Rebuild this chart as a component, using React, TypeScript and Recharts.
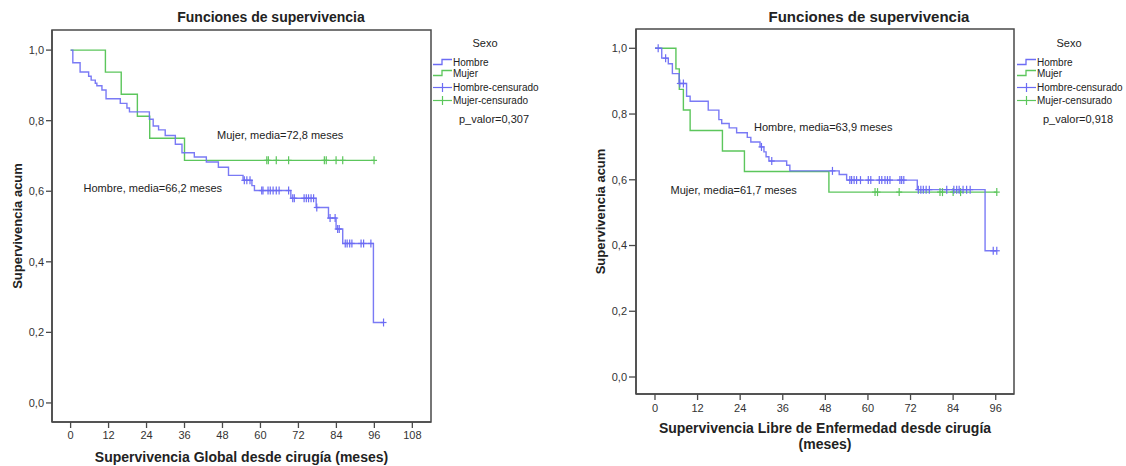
import React from 'react';
import { ComposedChart, Line, Scatter, XAxis, YAxis, ReferenceArea, ReferenceDot } from 'recharts';

const FONT = 'Arial, "Liberation Sans", sans-serif';
const BLUE = '#6c6cf4';
const GREEN = '#5cc65c';
const FRAME = '#4a4a4a';
const TEXT = '#222';

const survTicks = [0, 0.2, 0.4, 0.6, 0.8, 1.0];

// Supervivencia global
const sgTicksX = [0, 12, 24, 36, 48, 60, 72, 84, 96, 108];
const sgHombreTimes = [0.7, 3, 5.7, 6.5, 7.8, 8.3, 9.9, 11.2, 15.7, 17.8, 18.6, 24.9, 26.1, 27.8, 29.9, 33.1, 35.2, 39.1, 42.9, 46.7, 49.9, 54.5, 57.3, 58.1, 69.6, 77.6, 81.5, 83.9, 86.0, 95.7];
const sgHombreSurv = [0.964, 0.938, 0.926, 0.915, 0.906, 0.899, 0.887, 0.862, 0.849, 0.836, 0.825, 0.804, 0.785, 0.774, 0.758, 0.733, 0.709, 0.697, 0.683, 0.668, 0.645, 0.631, 0.616, 0.602, 0.58, 0.554, 0.524, 0.493, 0.452, 0.228];
const sgHombreCens = [54.9, 55.7, 56.7, 60.4, 60.8, 62.4, 63.1, 64.0, 65.0, 65.9, 68.9, 70.2, 70.7, 73.8, 74.5, 75.2, 76.0, 76.8, 77.8, 82.0, 83.6, 84.4, 84.9, 86.8, 87.4, 88.2, 88.9, 91.8, 92.6, 94.9, 98.9];
const sgMujerTimes = [11, 16, 21.1, 25, 36];
const sgMujerSurv = [0.9375, 0.875, 0.8125, 0.75, 0.6875];
const sgMujerCens = [62.0, 62.5, 65.0, 68.9, 80.2, 80.8, 83.9, 86.0, 95.9];

// Supervivencia libre de enfermedad
const sleTicksX = [0, 12, 24, 36, 48, 60, 72, 84, 96];
const sleHombreTimes = [1.9, 3.75, 4.9, 6.8, 8.9, 9.9, 15.0, 18.0, 18.8, 20.9, 23.0, 26.0, 27.0, 29.6, 30.7, 31.3, 32.1, 37.1, 38.0, 51.9, 54.0, 73.9, 93.0];
const sleHombreSurv = [0.97, 0.953, 0.923, 0.893, 0.854, 0.839, 0.812, 0.783, 0.771, 0.758, 0.743, 0.729, 0.715, 0.7, 0.685, 0.67, 0.657, 0.644, 0.627, 0.616, 0.599, 0.57, 0.384];
const sleHombreCens = [0.9, 3.0, 7.0, 8.0, 30.0, 32.9, 50.0, 54.9, 55.4, 56.1, 56.8, 57.9, 60.1, 60.8, 63.2, 63.9, 64.8, 65.5, 66.2, 69.0, 69.5, 70.1, 74.2, 74.9, 75.6, 76.4, 77.3, 82.2, 84.2, 85.0, 85.7, 86.8, 87.8, 88.8, 95.3, 96.3];
const sleMujerTimes = [5.9, 6.85, 8.0, 9.9, 19.0, 25.2, 49.0];
const sleMujerSurv = [0.9375, 0.875, 0.8125, 0.75, 0.6875, 0.625, 0.5625];
const sleMujerCens = [62.0, 62.7, 68.8, 80.3, 81.0, 84.0, 86.1, 96.3];

const legendItems = ['Hombre', 'Mujer', 'Hombre-censurado', 'Mujer-censurado'];

type Pt = { t: number; s: number };

function buildSteps(times: number[], surv: number[], cens: number[]): Pt[] {
  const pts: Pt[] = [{ t: 0, s: 1 }];
  times.forEach((t, i) => pts.push({ t, s: surv[i] }));
  const end = Math.max(times[times.length - 1], ...cens);
  pts.push({ t: end, s: surv[surv.length - 1] });
  return pts;
}

function buildCensored(times: number[], surv: number[], cens: number[]): Pt[] {
  return cens.map((t) => {
    let s = 1;
    times.forEach((et, i) => {
      if (et <= t) s = surv[i];
    });
    return { t, s };
  });
}

const fmtY = (v: number) => v.toFixed(1).replace('.', ',');

const censorShape = (color: string) => (props: any) => {
  const { cx, cy } = props;
  if (cx == null || cy == null) return <g />;
  return (
    <g>
      <line x1={cx} x2={cx} y1={cy - 4} y2={cy + 4} stroke={color} strokeWidth={1.2} />
      <line x1={cx - 3} x2={cx + 3} y1={cy} y2={cy} stroke={color} strokeWidth={1.2} />
    </g>
  );
};

const noteShape = (text: string) => (props: any) => (
  <text x={props.cx} y={props.cy} dominantBaseline="central" fontSize={11} fontFamily={FONT} fill={TEXT}>
    {text}
  </text>
);

function StepIcon({ color }: { color: string }) {
  return (
    <svg width={19} height={8} style={{ display: 'block' }}>
      <path d="M0,6.5 H9 V1.5 H19" stroke={color} strokeWidth={1.3} fill="none" />
    </svg>
  );
}

function CensIcon({ color }: { color: string }) {
  return (
    <svg width={19} height={9} style={{ display: 'block' }}>
      <line x1={0} x2={19} y1={4.5} y2={4.5} stroke={color} strokeWidth={1.2} />
      <line x1={9.5} x2={9.5} y1={0} y2={9} stroke={color} strokeWidth={1.2} />
    </svg>
  );
}

function SexoLegend({ left, top, pval }: { left: number; top: number; pval: string }) {
  const rowTops = [19, 30, 44, 57];
  return (
    <div style={{ position: 'absolute', left, top, width: 110, fontFamily: FONT, color: TEXT }}>
      <div style={{ position: 'absolute', left: 0, top: 0, width: 104, textAlign: 'center', fontSize: 11 }}>Sexo</div>
      {legendItems.map((name, i) => (
        <div key={name} style={{ position: 'absolute', left: 0, top: rowTops[i], display: 'flex', alignItems: 'center', height: 12, fontSize: 10, whiteSpace: 'nowrap' }}>
          {i < 2 ? <StepIcon color={i === 0 ? BLUE : GREEN} /> : <CensIcon color={i === 2 ? BLUE : GREEN} />}
          <span style={{ marginLeft: 1 }}>{name}</span>
        </div>
      ))}
      <div style={{ position: 'absolute', left: 0, top: 76, width: 122, textAlign: 'center', fontSize: 11 }}>{pval}</div>
    </div>
  );
}

const yLabel = (offX: number) => (props: any) => {
  const vb = props.viewBox;
  const x = vb.x + offX;
  const y = vb.y + vb.height / 2;
  return (
    <text x={x} y={y} transform={`rotate(-90 ${x} ${y})`} textAnchor="middle" dominantBaseline="central" fontSize={13} fontWeight="bold" fontFamily={FONT} fill={TEXT}>
      Supervivencia acum
    </text>
  );
};

const xLabel = (lines: string[], offY: number) => (props: any) => {
  const vb = props.viewBox;
  const x = vb.x + vb.width / 2;
  return (
    <text textAnchor="middle" fontSize={14} fontWeight="bold" fontFamily={FONT} fill={TEXT}>
      {lines.map((l, i) => (
        <tspan key={i} x={x} y={vb.y + offY + i * 16} dominantBaseline="central">
          {l}
        </tspan>
      ))}
    </text>
  );
};

type PanelProps = {
  width: number;
  margin: { top: number; right: number; left: number; bottom: number };
  yAxisWidth: number;
  xAxisHeight: number;
  xDomain: [number, number];
  yDomain: [number, number];
  xTicks: number[];
  yTickSize: number;
  xTickMargin: number;
  yLabelOff: number;
  xLabelLines: string[];
  xLabelOff: number;
  hombre: Pt[];
  mujer: Pt[];
  hombreCens: Pt[];
  mujerCens: Pt[];
  notes: { t: number; s: number; text: string }[];
};

function KMPanel(p: PanelProps) {
  const tickStyle = { fontSize: 11, fill: '#333', fontFamily: FONT };
  return (
    <ComposedChart width={p.width} height={466} margin={p.margin}>
      <XAxis
        dataKey="t"
        type="number"
        domain={p.xDomain}
        ticks={p.xTicks}
        allowDataOverflow
        height={p.xAxisHeight}
        tick={tickStyle}
        tickSize={6}
        tickMargin={p.xTickMargin}
        axisLine={{ stroke: FRAME, strokeWidth: 1.5 }}
        tickLine={{ stroke: FRAME, strokeWidth: 1.3 }}
        interval={0}
        label={{ content: xLabel(p.xLabelLines, p.xLabelOff) }}
      />
      <YAxis
        type="number"
        domain={p.yDomain}
        ticks={survTicks}
        allowDataOverflow
        width={p.yAxisWidth}
        tick={tickStyle}
        tickSize={p.yTickSize}
        tickMargin={2}
        tickFormatter={fmtY}
        axisLine={{ stroke: FRAME, strokeWidth: 1.5 }}
        tickLine={{ stroke: FRAME, strokeWidth: 1.3 }}
        interval={0}
        label={{ content: yLabel(p.yLabelOff) }}
      />
      <ReferenceArea x1={p.xDomain[0]} x2={p.xDomain[1]} y1={p.yDomain[0]} y2={p.yDomain[1]} fill="none" stroke={FRAME} strokeWidth={1.5} ifOverflow="visible" />
      <Line data={p.mujer} dataKey="s" type="stepAfter" stroke={GREEN} strokeWidth={1.4} dot={false} isAnimationActive={false} />
      <Line data={p.hombre} dataKey="s" type="stepAfter" stroke={BLUE} strokeWidth={1.4} strokeOpacity={0.9} dot={false} isAnimationActive={false} />
      <Scatter data={p.mujerCens} dataKey="s" shape={censorShape(GREEN)} isAnimationActive={false} />
      <Scatter data={p.hombreCens} dataKey="s" shape={censorShape(BLUE)} isAnimationActive={false} />
      {p.notes.map((n) => (
        <ReferenceDot key={n.text} x={n.t} y={n.s} r={0} shape={noteShape(n.text)} ifOverflow="visible" />
      ))}
    </ComposedChart>
  );
}

export default function App() {
  const sgH = buildSteps(sgHombreTimes, sgHombreSurv, sgHombreCens);
  const sgM = buildSteps(sgMujerTimes, sgMujerSurv, sgMujerCens);
  const sgHC = buildCensored(sgHombreTimes, sgHombreSurv, sgHombreCens);
  const sgMC = buildCensored(sgMujerTimes, sgMujerSurv, sgMujerCens);
  const sleH = buildSteps(sleHombreTimes, sleHombreSurv, sleHombreCens);
  const sleM = buildSteps(sleMujerTimes, sleMujerSurv, sleMujerCens);
  const sleHC = buildCensored(sleHombreTimes, sleHombreSurv, sleHombreCens);
  const sleMC = buildCensored(sleMujerTimes, sleMujerSurv, sleMujerCens);

  const titleStyle: React.CSSProperties = {
    position: 'absolute',
    fontFamily: FONT,
    fontWeight: 'bold',
    color: TEXT,
    textAlign: 'center',
    width: 300,
    lineHeight: '18px',
  };

  return (
    <div style={{ position: 'absolute', left: 0, top: 0, width: 1126, height: 466, background: '#fff', overflow: 'hidden' }}>
      <div style={{ position: 'absolute', left: 0, top: 0 }}>
        <KMPanel
          width={560}
          margin={{ top: 30, right: 129, left: 0, bottom: 0 }}
          yAxisWidth={52}
          xAxisHeight={44}
          xDomain={[-5.88, 113.9]}
          yDomain={[-0.054, 1.057]}
          xTicks={sgTicksX}
          yTickSize={6}
          xTickMargin={3}
          yLabelOff={17}
          xLabelLines={['Supervivencia Global desde cirugía (meses)']}
          xLabelOff={35}
          hombre={sgH}
          mujer={sgM}
          hombreCens={sgHC}
          mujerCens={sgMC}
          notes={[
            { t: 46.3, s: 0.759, text: 'Mujer, media=72,8 meses' },
            { t: 4.1, s: 0.609, text: 'Hombre, media=66,2 meses' },
          ]}
        />
      </div>
      <div style={{ position: 'absolute', left: 580, top: 0 }}>
        <KMPanel
          width={546}
          margin={{ top: 29, right: 112, left: 0, bottom: 0 }}
          yAxisWidth={56}
          xAxisHeight={72}
          xDomain={[-5.35, 101.15]}
          yDomain={[-0.0517, 1.0587]}
          xTicks={sleTicksX}
          yTickSize={7}
          xTickMargin={4}
          yLabelOff={20}
          xLabelLines={['Supervivencia Libre de Enfermedad desde cirugía', '(meses)']}
          xLabelOff={34}
          hombre={sleH}
          mujer={sleM}
          hombreCens={sleHC}
          mujerCens={sleMC}
          notes={[
            { t: 27.9, s: 0.761, text: 'Hombre, media=63,9 meses' },
            { t: 4.4, s: 0.569, text: 'Mujer, media=61,7 meses' },
          ]}
        />
      </div>
      <div style={{ ...titleStyle, left: 121, top: 8, fontSize: 14 }}>Funciones de supervivencia</div>
      <div style={{ ...titleStyle, left: 719, top: 8, fontSize: 15 }}>Funciones de supervivencia</div>
      <SexoLegend left={433} top={37} pval="p_valor=0,307" />
      <SexoLegend left={1017} top={37} pval="p_valor=0,918" />
    </div>
  );
}
